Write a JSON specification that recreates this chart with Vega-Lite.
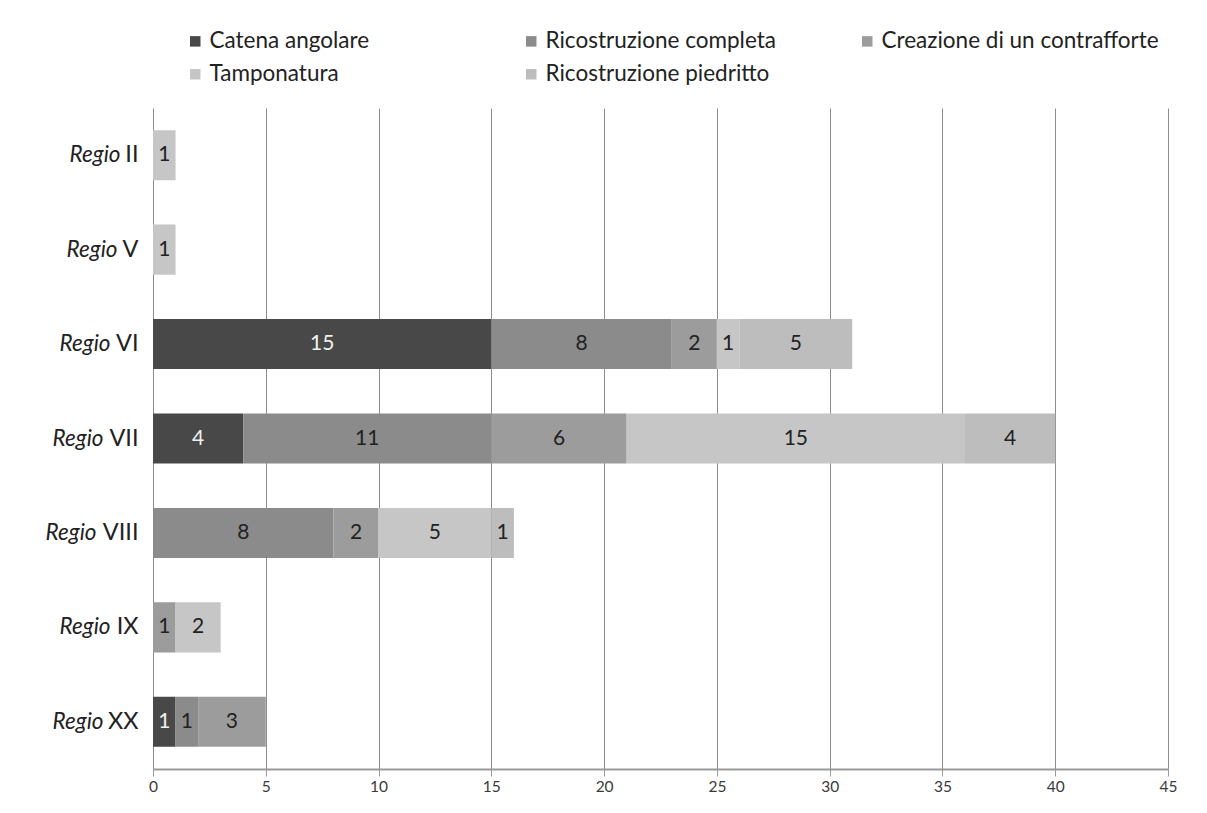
{
  "$schema": "https://vega.github.io/schema/vega-lite/v6.json",
  "width": 1015,
  "height": 661,
  "autosize": {"type": "none"},
  "padding": {"left": 153, "top": 108, "right": 39, "bottom": 44},
  "background": "white",
  "config": {"view": {"stroke": null}, "font": "Lato"},
  "data": {
    "values": [
      {"regio": "Regio II", "tipo": "Tamponatura", "k": 4, "n": 1},
      {"regio": "Regio V", "tipo": "Tamponatura", "k": 4, "n": 1},
      {"regio": "Regio VI", "tipo": "Catena angolare", "k": 1, "n": 15},
      {"regio": "Regio VI", "tipo": "Ricostruzione completa", "k": 2, "n": 8},
      {"regio": "Regio VI", "tipo": "Creazione di un contrafforte", "k": 3, "n": 2},
      {"regio": "Regio VI", "tipo": "Tamponatura", "k": 4, "n": 1},
      {"regio": "Regio VI", "tipo": "Ricostruzione piedritto", "k": 5, "n": 5},
      {"regio": "Regio VII", "tipo": "Catena angolare", "k": 1, "n": 4},
      {"regio": "Regio VII", "tipo": "Ricostruzione completa", "k": 2, "n": 11},
      {"regio": "Regio VII", "tipo": "Creazione di un contrafforte", "k": 3, "n": 6},
      {"regio": "Regio VII", "tipo": "Tamponatura", "k": 4, "n": 15},
      {"regio": "Regio VII", "tipo": "Ricostruzione piedritto", "k": 5, "n": 4},
      {"regio": "Regio VIII", "tipo": "Ricostruzione completa", "k": 2, "n": 8},
      {"regio": "Regio VIII", "tipo": "Creazione di un contrafforte", "k": 3, "n": 2},
      {"regio": "Regio VIII", "tipo": "Tamponatura", "k": 4, "n": 5},
      {"regio": "Regio VIII", "tipo": "Ricostruzione piedritto", "k": 5, "n": 1},
      {"regio": "Regio IX", "tipo": "Creazione di un contrafforte", "k": 3, "n": 1},
      {"regio": "Regio IX", "tipo": "Tamponatura", "k": 4, "n": 2},
      {"regio": "Regio XX", "tipo": "Catena angolare", "k": 1, "n": 1},
      {"regio": "Regio XX", "tipo": "Ricostruzione completa", "k": 2, "n": 1},
      {"regio": "Regio XX", "tipo": "Creazione di un contrafforte", "k": 3, "n": 3}
    ]
  },
  "transform": [
    {"stack": "n", "groupby": ["regio"], "sort": [{"field": "k", "order": "ascending"}], "as": ["x0", "x1"]},
    {"calculate": "(datum.x0 + datum.x1) / 2", "as": "xm"}
  ],
  "layer": [
    {
      "mark": {"type": "bar"},
      "encoding": {
        "y": {
          "field": "regio", "type": "nominal",
          "sort": ["Regio II", "Regio V", "Regio VI", "Regio VII", "Regio VIII", "Regio IX", "Regio XX"],
          "scale": {"paddingInner": 0.47, "paddingOuter": 0.235},
          "axis": {
            "orient": "left", "title": null, "domain": false, "ticks": false, "grid": false,
            "labelExpr": "replace(datum.value, 'Regio ', '')",
            "labelFont": "Lato", "labelFontSize": 23.5, "labelColor": "#222222", "labelPadding": 15
          }
        },
        "x": {
          "field": "x0", "type": "quantitative",
          "scale": {"domain": [0, 45], "nice": false},
          "axis": {
            "title": null, "values": [0, 5, 10, 15, 20, 25, 30, 35, 40, 45],
            "grid": true, "gridColor": "#8c8c8c", "gridWidth": 1,
            "domainColor": "#9a9a9a", "domainWidth": 2,
            "tickColor": "#9a9a9a", "tickSize": 7, "tickWidth": 1, "labelFlush": false,
            "labelFont": "Lato", "labelFontSize": 15.5, "labelColor": "#3a3a3a", "labelPadding": 3
          }
        },
        "x2": {"field": "x1"},
        "color": {
          "field": "tipo", "type": "nominal",
          "scale": {
            "domain": ["Catena angolare", "Ricostruzione completa", "Creazione di un contrafforte", "Tamponatura", "Ricostruzione piedritto"],
            "range": ["#484848", "#8b8b8b", "#9c9c9c", "#c6c6c6", "#bdbdbd"]
          },
          "legend": {
            "orient": "none", "legendX": 31, "legendY": -78,
            "columns": 3, "direction": "horizontal", "title": null,
            "symbolType": "square", "symbolSize": 110, "symbolStrokeWidth": 0,
            "labelFont": "Lato", "labelFontSize": 22.5, "labelColor": "#222222", "labelLimit": 500,
            "gridAlign": "all", "columnPadding": 33, "rowPadding": 10, "labelOffset": 3, "padding": 0
          }
        }
      }
    },
    {
      "mark": {"type": "text", "font": "Lato", "fontSize": 21, "baseline": "middle", "align": "center"},
      "encoding": {
        "y": {
          "field": "regio", "type": "nominal",
          "sort": ["Regio II", "Regio V", "Regio VI", "Regio VII", "Regio VIII", "Regio IX", "Regio XX"],
          "axis": {
            "orient": "left", "title": null, "domain": false, "ticks": false, "grid": false,
            "labelExpr": "'Regio'", "labelFontStyle": "italic",
            "labelFont": "Lato", "labelFontSize": 22.5, "labelColor": "#222222",
            "labelPadding": {
              "condition": [
                {"test": "datum.value === 'Regio II'", "value": 33},
                {"test": "datum.value === 'Regio V'", "value": 36},
                {"test": "datum.value === 'Regio VI'", "value": 43},
                {"test": "datum.value === 'Regio VII'", "value": 50},
                {"test": "datum.value === 'Regio VIII'", "value": 57},
                {"test": "datum.value === 'Regio IX'", "value": 43}
              ],
              "value": 50
            }
          }
        },
        "x": {
          "field": "xm", "type": "quantitative",
          "axis": {
            "title": null, "values": [0, 5, 10, 15, 20, 25, 30, 35, 40, 45],
            "grid": true, "gridColor": "#8c8c8c", "gridWidth": 1,
            "domainColor": "#9a9a9a", "domainWidth": 2,
            "tickColor": "#9a9a9a", "tickSize": 7, "tickWidth": 1, "labelFlush": false,
            "labelFont": "Lato", "labelFontSize": 15.5, "labelColor": "#3a3a3a", "labelPadding": 3
          }
        },
        "text": {"field": "n", "type": "quantitative"},
        "color": {"condition": {"test": "datum.k === 1", "value": "#f0f0f0"}, "value": "#222222"}
      }
    }
  ],
  "resolve": {"axis": {"y": "independent"}}
}
